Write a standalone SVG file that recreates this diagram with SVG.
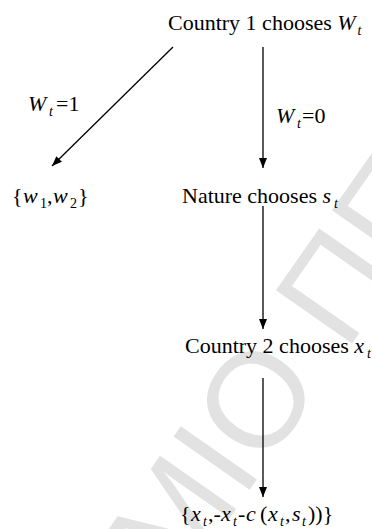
<svg xmlns="http://www.w3.org/2000/svg" width="372" height="529" viewBox="0 0 372 529">
<style>
text{font-family:"Liberation Serif","Times New Roman",serif;font-size:22px;fill:#000}
.i{font-style:italic}
.s{font-style:italic;font-size:14px}
.n{font-size:14px}
.wm{font-family:"Liberation Sans",Arial,sans-serif;font-size:135px;fill:#e2e2e2}
.c{stroke:#000;stroke-width:1.3;fill:none;marker-end:url(#ah)}
</style>
<defs>
<marker id="ah" viewBox="0 0 10 10" refX="10" refY="5" markerWidth="10" markerHeight="10" markerUnits="userSpaceOnUse" orient="auto">
<path d="M0,1 L10,5 L0,9 Z" fill="#000"/>
</marker>
</defs>
<rect width="372" height="529" fill="#fff"/>
<g id="watermark"><text class="wm" transform="translate(178,592) rotate(-55)">ΜΙΟ ΠΕ</text></g>
<g id="connectors">
<line class="c" x1="173" y1="47" x2="52" y2="166"/>
<line class="c" x1="263" y1="47" x2="263" y2="168"/>
<line class="c" x1="263" y1="206" x2="263" y2="329"/>
<line class="c" x1="263" y1="378" x2="263" y2="497"/>
</g>
<g id="country1"><text x="168" y="30">Country 1 chooses <tspan class="i">W</tspan><tspan class="s" dx="2" dy="5">t</tspan></text></g>
<g id="label-w1"><text x="28" y="111"><tspan class="i">W</tspan><tspan class="s" x="49" dy="5">t</tspan><tspan x="56" dy="-5">=1</tspan></text></g>
<g id="label-w0"><text x="276" y="123"><tspan class="i">W</tspan><tspan class="s" x="297" dy="5">t</tspan><tspan x="302" dy="-5">=0</tspan></text></g>
<g id="payoff1"><text x="12" y="203">{<tspan class="i" x="23">w</tspan><tspan class="n" x="40" dy="5">1</tspan><tspan x="47" dy="-5">,</tspan><tspan class="i" x="53">w</tspan><tspan class="n" x="70" dy="5">2</tspan><tspan x="78" dy="-5">}</tspan></text></g>
<g id="nature"><text x="182" y="203">Nature chooses <tspan class="i">s</tspan><tspan class="s" dx="3" dy="5">t</tspan></text></g>
<g id="country2"><text x="185" y="353">Country 2 chooses <tspan class="i">x</tspan><tspan class="s" dx="3" dy="5">t</tspan></text></g>
<g id="payoff2"><text x="180" y="521">{<tspan class="i" x="191">x</tspan><tspan class="s" x="203" dy="5">t</tspan><tspan x="208" dy="-5">,-</tspan><tspan class="i" x="221">x</tspan><tspan class="s" x="233" dy="5">t</tspan><tspan x="238" dy="-5">-</tspan><tspan class="i" x="246">c</tspan><tspan x="260">(</tspan><tspan class="i" x="268">x</tspan><tspan class="s" x="280" dy="5">t</tspan><tspan x="285" dy="-5">,</tspan><tspan class="i" x="292">s</tspan><tspan class="s" x="302" dy="5">t</tspan><tspan x="308" dy="-5">))}</tspan></text></g>
</svg>
